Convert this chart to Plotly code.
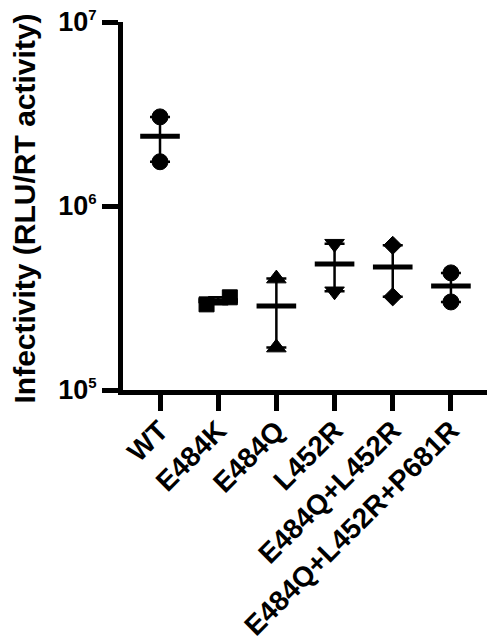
import numpy as np
import plotly.graph_objects as go

categories = ["WT", "E484K", "E484Q", "L452R", "E484Q+L452R", "E484Q+L452R+P681R"]
values = [
    [3.05e6, 1.74e6],
    [2.92e5, 3.19e5],
    [4.03e5, 1.70e5],
    [6.24e5, 3.44e5],
    [6.11e5, 3.21e5],
    [4.33e5, 3.01e5],
]
symbols = ["circle", "square", "triangle-up", "triangle-down", "diamond", "circle"]
sizes = [16, 15, 17, 17, 14, 16]
jitter = [[0, 0], [-0.2, 0.2], [0, 0], [0, 0], [0, 0], [0, 0]]
ytick_vals = [1e5, 1e6, 1e7]
ytick_exp = [5, 6, 7]
y_title = "Infectivity (RLU/RT activity)"

FONT = "Liberation Sans"
ytick_text = ["10<sup><span style='font-size:15px'>%d</span></sup>" % e for e in ytick_exp]

W, H = 487, 643
L, T, B = 123, 22, 253
plot_w = W - L
plot_h = H - T - B

fig = go.Figure()

for i, (cat, vals) in enumerate(zip(categories, values)):
    arr = np.array(vals)
    mean = arr.mean()
    sem = arr.std(ddof=1) / np.sqrt(len(arr))
    fig.add_trace(go.Scatter(
        x=[i], y=[mean], mode="markers",
        marker=dict(symbol="line-ew", size=28.3, color="black",
                    line=dict(color="black", width=5)),
        error_y=dict(type="data", array=[sem], visible=True,
                     color="black", thickness=2.5, width=10),
        showlegend=False, hoverinfo="skip",
    ))
    fig.add_trace(go.Scatter(
        x=[i + j for j in jitter[i]], y=vals, mode="markers",
        marker=dict(symbol=symbols[i], size=sizes[i], color="black",
                    line=dict(color="black", width=1)),
        showlegend=False, name=cat,
    ))

fig.update_layout(
    width=W, height=H,
    margin=dict(l=L, r=0, t=T, b=B),
    paper_bgcolor="white", plot_bgcolor="white",
    font=dict(family=FONT, color="black"),
)
fig.update_xaxes(
    range=[-0.636, 5.62], automargin=False, ticklabeloverflow="allow",
    tickmode="array", tickvals=list(range(len(categories))), ticktext=categories,
    tickangle=-45, ticklabelstandoff=-8,
    tickfont=dict(family=FONT, size=28, weight="bold", color="black"),
    showline=True, linecolor="black", linewidth=5,
    ticks="outside", ticklen=16, tickwidth=5, tickcolor="black",
    showgrid=False, zeroline=False,
)
fig.update_yaxes(
    type="log", range=[5, 7], automargin=False, ticklabeloverflow="allow",
    tickmode="array", tickvals=ytick_vals, ticktext=ytick_text,
    tickfont=dict(family=FONT, size=27, weight="bold", color="black"),
    showline=True, linecolor="black", linewidth=5,
    ticks="outside", ticklen=16, tickwidth=5, tickcolor="black",
    showgrid=False, zeroline=False,
)
fig.add_annotation(
    text=y_title, textangle=-90, showarrow=False,
    xref="paper", yref="paper", x=-(123 - 24) / plot_w,
    y=(390 - 208.5) / plot_h,
    xanchor="center", yanchor="middle",
    font=dict(family=FONT, size=30, weight="bold", color="black"),
)

fig.write_html("out.html", config={"displayModeBar": False},
               post_script="document.body.style.margin='0px';")
